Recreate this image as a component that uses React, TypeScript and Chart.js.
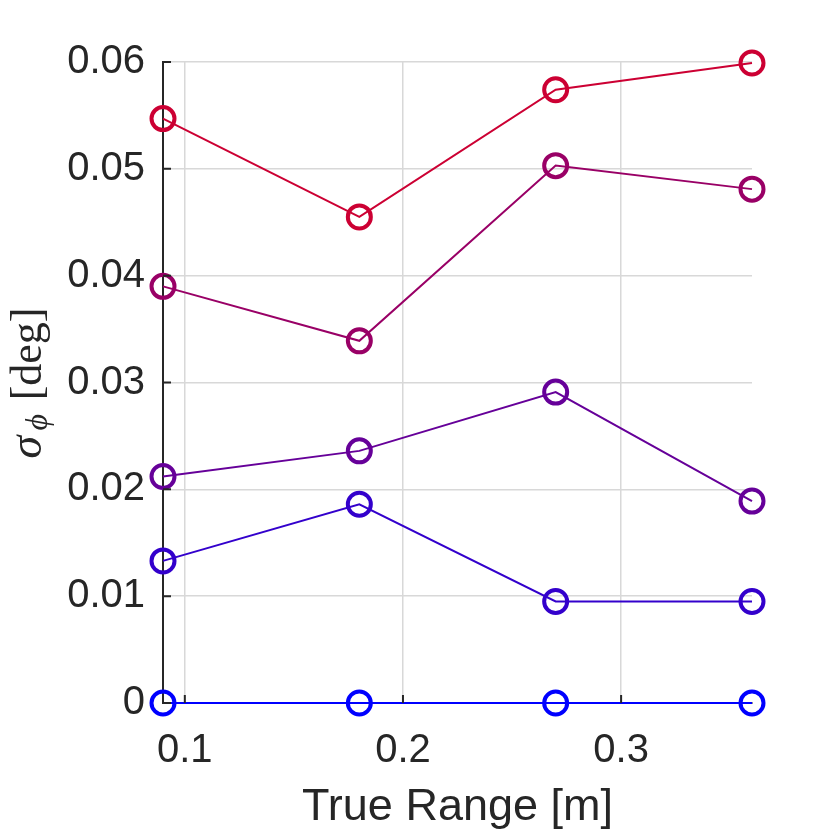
import { useEffect, useRef } from 'react';
import { Chart, registerables } from 'chart.js';
import type { ChartConfiguration, Plugin } from 'chart.js';

Chart.register(...registerables);

// true range [m] at which each sigma was measured
const ranges = [0.09, 0.18, 0.27, 0.36];

// sigma_phi [deg], one list per curve, bottom to top
const sigmaLevel1 = [0, 0, 0, 0];
const sigmaLevel2 = [0.0133, 0.0186, 0.0095, 0.0095];
const sigmaLevel3 = [0.0212, 0.0236, 0.0291, 0.0189];
const sigmaLevel4 = [0.039, 0.0339, 0.0503, 0.0481];
const sigmaLevel5 = [0.0547, 0.0455, 0.0574, 0.0599];

const curveColors = ['#0000ff', '#3300cc', '#660099', '#990066', '#cc0033'];

const xTicks = [0.1, 0.2, 0.3];
const yTicks = [0, 0.01, 0.02, 0.03, 0.04, 0.05, 0.06];

const INK = '#262626';
const GRID = '#d8d8d8';
const SANS = '"Liberation Sans", Arial, sans-serif';
const SERIF = '"Liberation Serif", "DejaVu Serif", serif';

// MATLAB-style inward tick marks plus the two axis titles
const decorations: Plugin<'line'> = {
  id: 'decorations',
  afterDatasetsDraw(chart) {
    const { ctx, chartArea } = chart;
    const xs = chart.scales.x;
    const ys = chart.scales.y;
    ctx.save();
    ctx.strokeStyle = INK;
    ctx.lineWidth = 2;
    ctx.beginPath();
    for (const t of xTicks) {
      const px = xs.getPixelForValue(t);
      ctx.moveTo(px, chartArea.bottom);
      ctx.lineTo(px, chartArea.bottom - 8);
    }
    for (const t of yTicks) {
      const py = ys.getPixelForValue(t);
      ctx.moveTo(chartArea.left, py);
      ctx.lineTo(chartArea.left + 8, py);
    }
    ctx.stroke();

    // x title
    ctx.fillStyle = INK;
    ctx.font = `45px ${SANS}`;
    ctx.textAlign = 'center';
    ctx.textBaseline = 'alphabetic';
    ctx.fillText('True Range [m]', (chartArea.left + chartArea.right) / 2, 820);

    // y title: sigma with phi subscript, then [deg]
    const cy = (chartArea.top + chartArea.bottom) / 2;
    ctx.translate(41, 0);
    ctx.rotate(-Math.PI / 2);
    ctx.textAlign = 'left';
    ctx.font = `italic 46px ${SERIF}`;
    ctx.fillText('σ', -(cy + 76), 0);
    ctx.font = `italic 32px ${SERIF}`;
    ctx.fillText('ϕ', -(cy + 48), 6);
    ctx.textAlign = 'right';
    ctx.font = `44px ${SERIF}`;
    ctx.fillText('[deg]', -(cy - 75), 0);
    ctx.restore();
  },
};

export default function App() {
  const canvasRef = useRef<HTMLCanvasElement>(null);

  useEffect(() => {
    const canvas = canvasRef.current;
    if (!canvas) return;

    const levels = [sigmaLevel1, sigmaLevel2, sigmaLevel3, sigmaLevel4, sigmaLevel5];

    const config: ChartConfiguration<'line'> = {
      type: 'line',
      data: {
        datasets: levels.map((vals, i) => ({
          data: vals.map((v, j) => ({ x: ranges[j], y: v })),
          borderColor: curveColors[i],
          backgroundColor: 'transparent',
          borderWidth: 2,
          pointRadius: 11.5,
          pointBorderWidth: 4,
          pointBackgroundColor: 'transparent',
          pointBorderColor: curveColors[i],
          pointHoverRadius: 11.5,
          tension: 0,
          clip: false,
        })),
      },
      options: {
        animation: false,
        responsive: false,
        layout: { padding: { top: 62, right: 78, left: 0, bottom: 0 } },
        scales: {
          x: {
            type: 'linear',
            min: 0.09,
            max: 0.36,
            afterBuildTicks: (scale) => {
              scale.ticks = xTicks.map((v) => ({ value: v }));
            },
            afterFit: (scale) => {
              scale.height = 127;
            },
            grid: { color: GRID, lineWidth: 1.5, drawTicks: false },
            border: { display: true, color: INK, width: 2 },
            ticks: {
              color: INK,
              font: { family: SANS, size: 40 },
              padding: 24,
              maxRotation: 0,
              callback: (v) => String(v),
            },
          },
          y: {
            type: 'linear',
            min: 0,
            max: 0.06,
            afterBuildTicks: (scale) => {
              scale.ticks = yTicks.map((v) => ({ value: v }));
            },
            afterFit: (scale) => {
              scale.width = 163;
            },
            grid: { color: GRID, lineWidth: 1.5, drawTicks: false },
            border: { display: true, color: INK, width: 2 },
            ticks: {
              color: INK,
              font: { family: SANS, size: 40 },
              padding: 18,
              callback: (v) => (Number(v) === 0 ? '0' : Number(v).toFixed(2)),
            },
          },
        },
        plugins: {
          legend: { display: false },
          tooltip: { enabled: false },
        },
      },
      plugins: [decorations],
    };

    const chart = new Chart(canvas, config);
    return () => chart.destroy();
  }, []);

  return (
    <div style={{ position: 'fixed', left: 0, top: 0, width: 830, height: 830, background: '#fff' }}>
      <canvas ref={canvasRef} width={830} height={830} style={{ width: 830, height: 830 }} />
    </div>
  );
}
